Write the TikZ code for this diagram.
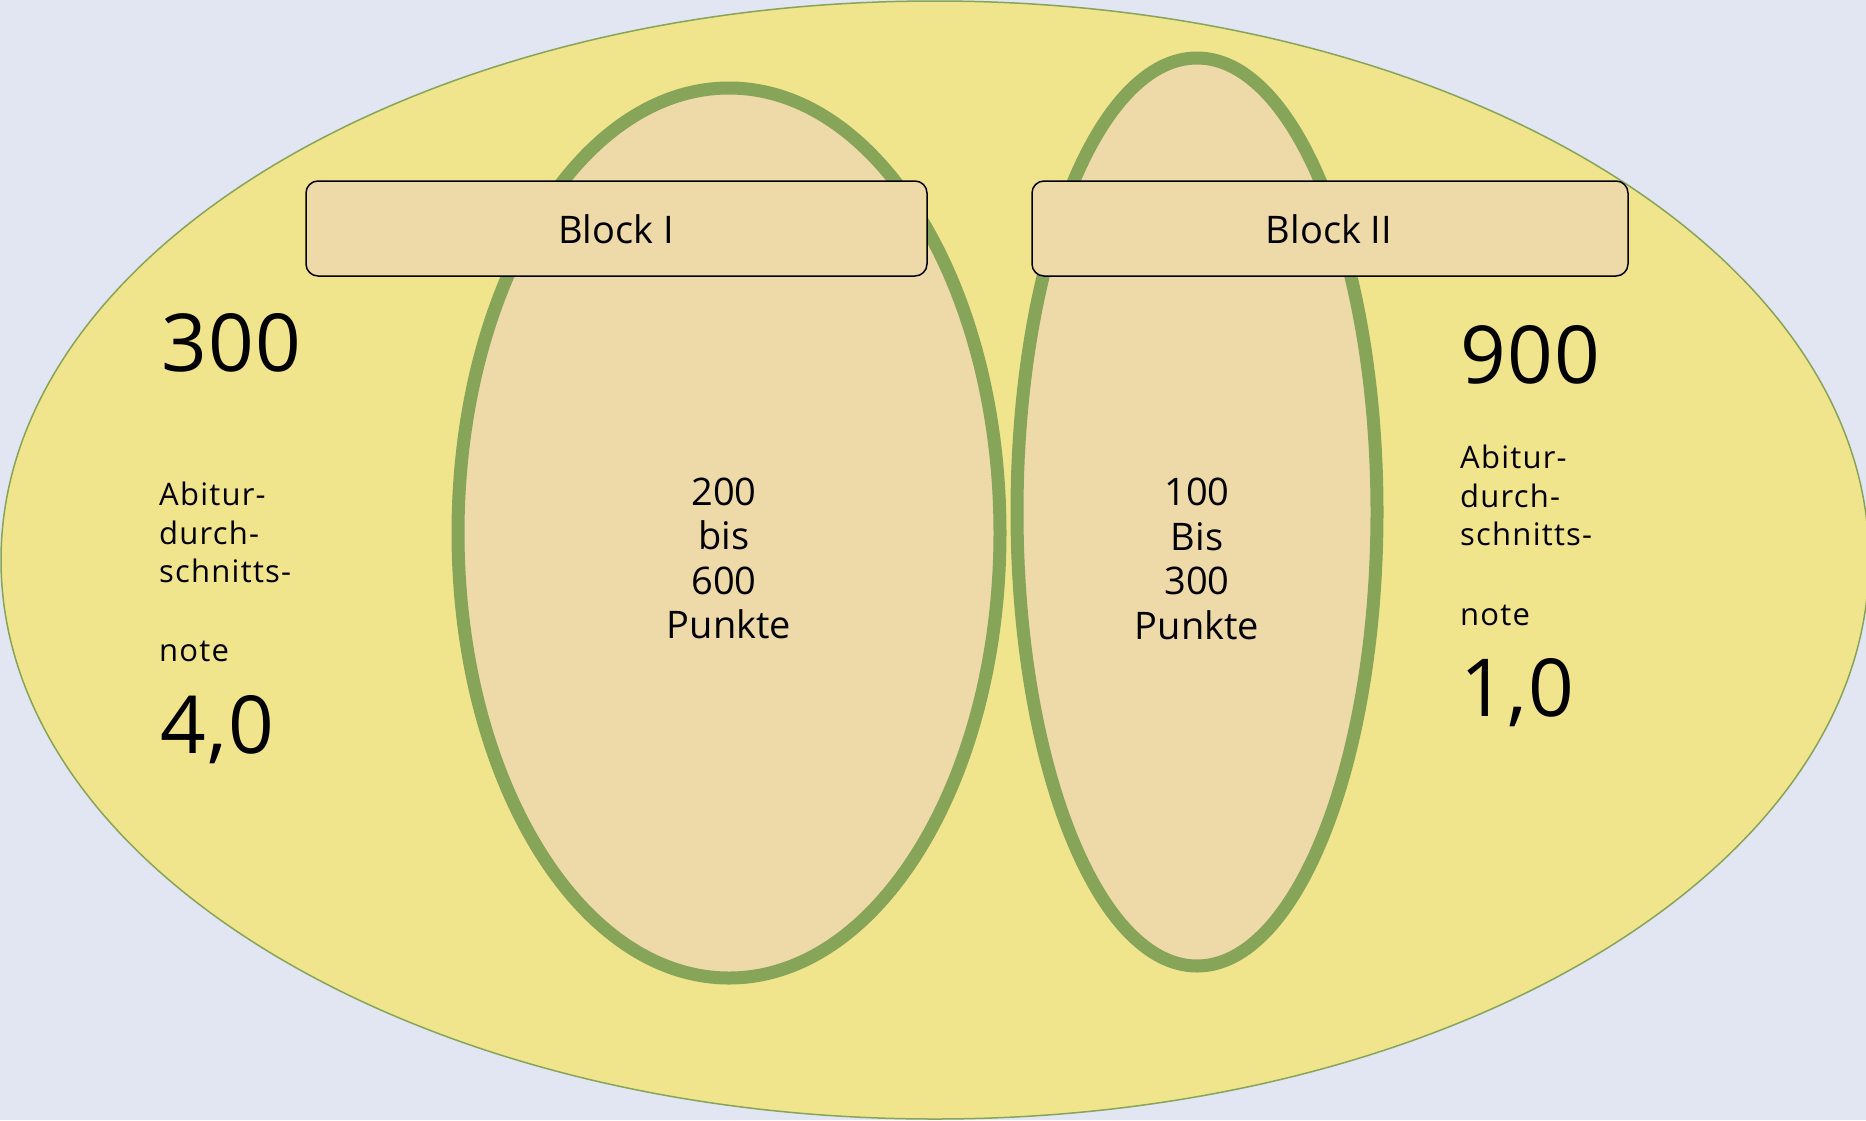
\documentclass[tikz,border=0pt]{standalone}
\usepackage{fontspec}
\setmainfont{Open Sans}
\definecolor{bgc}{HTML}{E2E5F2}
\definecolor{outerfill}{HTML}{F0E48C}
\definecolor{innerfill}{HTML}{EED9A9}
\definecolor{ringc}{HTML}{87A559}
\begin{document}
\begin{tikzpicture}[x=1pt,y=-1pt,
  ring/.style={draw=ringc, line width=13pt, fill=innerfill},
  blockbox/.style={draw=black, line width=1.5pt, fill=innerfill, rounded corners=12pt},
  bignum/.style={anchor=base west, inner sep=0pt, font=\fontsize{80}{90}\selectfont\addfontfeature{LetterSpace=2}},
  small/.style={anchor=base west, inner sep=0pt, font=\fontsize{31}{38}\selectfont\addfontfeature{LetterSpace=4}},
  mid/.style={anchor=base, inner sep=0pt, font=\fontsize{38}{44}\selectfont},
  blocktext/.style={anchor=base, inner sep=0pt, font=\fontsize{38}{44}\selectfont}]
\fill[bgc] (0,0) rectangle (1866,1120);
\useasboundingbox (0,0) rectangle (1866,1120);
\begin{scope}
\clip (0,0) rectangle (1866,1120);
% outer ellipse
\draw[ringc, line width=1.5pt, fill=outerfill] (935,560) ellipse [x radius=934, y radius=559];
\end{scope}
% inner ellipses
\draw[ring] (729,533) ellipse [x radius=271, y radius=445];
\draw[ring] (1197,512) ellipse [x radius=180, y radius=454];
% block boxes
\draw[blockbox] (306,181) rectangle (927,276);
\draw[blockbox] (1032,181) rectangle (1628,276);
\node[blocktext] (b1) at (616,243) {Block I};
\node[blocktext] (b2) at (1329,243) {Block II};
% left texts
\node[bignum] (l300) at (161,371) {300};
\node[small] (la) at (159,505) {Abitur-};
\node[small] (lb) at (159,544) {durch-};
\node[small] (lc) at (159,582) {schnitts-};
\node[small] (ld) at (159,661) {note};
\node[bignum] (l40) at (160,753) {4,0};
% right texts
\node[bignum] (r900) at (1460,383) {900};
\node[small] (ra) at (1460,468) {Abitur-};
\node[small] (rb) at (1460,507) {durch-};
\node[small] (rc) at (1460,545) {schnitts-};
\node[small] (rd) at (1460,625) {note};
\node[bignum] (r10) at (1460,716) {1,0};
% center texts
\node[mid] (c1a) at (724,505) {200};
\node[mid] (c1b) at (724,549) {bis};
\node[mid] (c1c) at (724,594) {600};
\node[mid] (c1d) at (729,638) {Punkte};
\node[mid] (c2a) at (1197,505) {100};
\node[mid] (c2b) at (1197,550) {Bis};
\node[mid] (c2c) at (1197,594) {300};
\node[mid] (c2d) at (1197,639) {Punkte};
\end{tikzpicture}
\end{document}
